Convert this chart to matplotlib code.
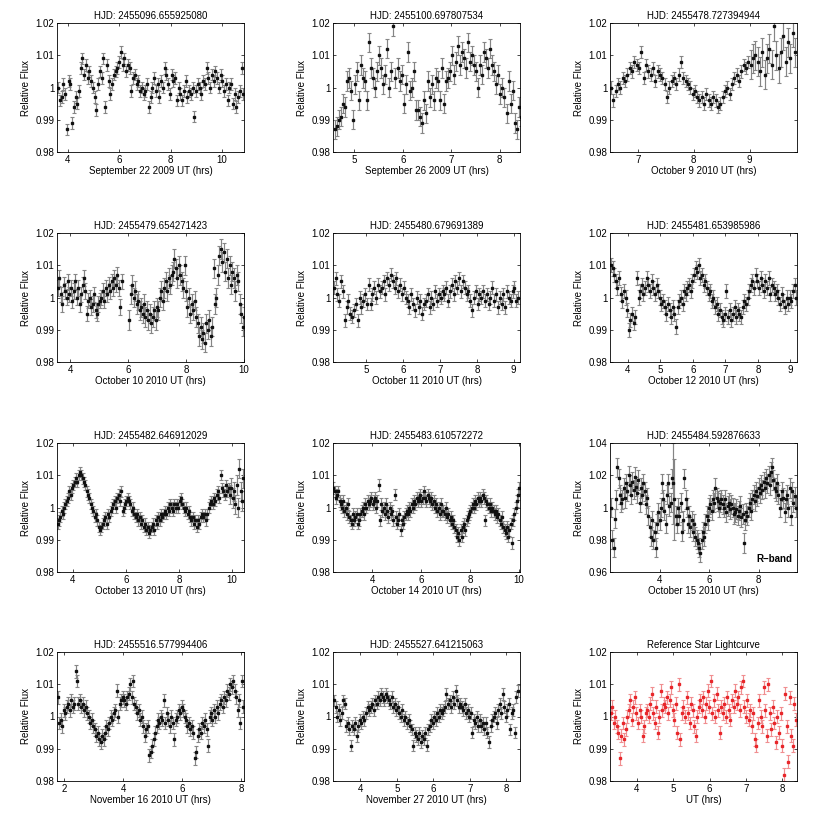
import numpy as np
import matplotlib
matplotlib.use("Agg")
import matplotlib.pyplot as plt
from matplotlib.ticker import FuncFormatter

plt.rcParams['font.family'] = ['Liberation Sans', 'DejaVu Sans']

# ---------------- data (flux offsets from 1, in parts per thousand) ----------------
titles = ["HJD: 2455096.655925080", "HJD: 2455100.697807534", "HJD: 2455478.727394944",
          "HJD: 2455479.654271423", "HJD: 2455480.679691389", "HJD: 2455481.653985986",
          "HJD: 2455482.646912029", "HJD: 2455483.610572272", "HJD: 2455484.592876633",
          "HJD: 2455516.577994406", "HJD: 2455527.641215063", "Reference Star Lightcurve"]
xlabels = ["September 22 2009 UT (hrs)", "September 26 2009 UT (hrs)", "October 9 2010 UT (hrs)",
           "October 10 2010 UT (hrs)", "October 11 2010 UT (hrs)", "October 12 2010 UT (hrs)",
           "October 13 2010 UT (hrs)", "October 14 2010 UT (hrs)", "October 15 2010 UT (hrs)",
           "November 16 2010 UT (hrs)", "November 27 2010 UT (hrs)", "UT (hrs)"]
xlims = [(3.58, 10.85), (4.56, 8.42), (6.5, 9.85), (3.55, 10.0), (4.1, 9.17), (3.45, 9.2),
         (3.4, 10.45), (2.4, 10.05), (2.0, 9.55), (1.75, 8.1), (3.25, 8.38), (3.26, 8.4)]
xticks = [[4, 6, 8, 10], [5, 6, 7, 8], [7, 8, 9], [4, 6, 8, 10], [5, 6, 7, 8, 9],
          [4, 5, 6, 7, 8, 9], [4, 6, 8, 10], [4, 6, 8, 10], [4, 6, 8], [2, 4, 6, 8],
          [4, 5, 6, 7, 8], [4, 5, 6, 7, 8]]
yticks_std = [0.98, 0.99, 1.0, 1.01, 1.02]
yticks_r = [0.96, 0.98, 1.0, 1.02, 1.04]

# panel 1
p1_flux = [0, -4, -3, 1, -2, -13,
           2, 1, -11, -6, -3, -5, -1,
           6, 9, 4, 7, 3, 5, 2,
           0, -3, -7, 1, 5, 3, 9,
           -6, 7, 2, -2, 1, 4, 5,
           6, 8, 11, 7, 9, 5, 7,
           6, -1, 3, 4, 1, 2, -1,
           0, -2, -1, 1, -6, -3, 0,
           3, -1, 1, -3, 2, 0, 6,
           4, 1, -2, 4, 2, 3, -4,
           0, -2, -4, -1, 2, -3, -1,
           -2, 0, -9, -1, 1, 0, -2,
           2, 1, 6, 3, 0, 4, 2,
           5, 3, 0, 4, 2, -1, 1,
           -4, 0, 1, -5, -2, -6, -3,
           -1, 6, -2]
# panel 2
p2_flux = [-13, -12, -10, -9, -5, -6, 2, 3, -1, -10, 1, 5,
           -4, 7, 3, 2, -4, 14, 6, 3, 0, 5, 10, 6,
           1, 4, 12, 0, 5, 19, 3, 6, 2, 4, -5, 1,
           11, -1, 0, 5, -7, -7, -9, -11, -4, -8, 2, -3,
           1, -4, 3, 2, -4, 6, -5, 2, 3, 5, 10, 4,
           8, 13, 7, 11, 9, 6, 14, 8, 10, 7, 5, 0,
           7, 4, 11, 9, 6, 12, 7, 5, 1, 4, -2, 0,
           -3, -8, 2, -5, -1, -11, -13, -6, -9, -4]
# panel 3
p3_flux_a = [0, -4, -1, 1, 0, 3, 2, 4, 6, 5, 8, 7,
             6, 11, 3, 7, 5, 4, 6, 2, 5, 4, 3, 1,
             -3, 0, 2, 3, 1, 4, 8, 3, 2, 1, 0, -2,
             -1, -3, -4, -3, -5, -2, -4, -5, -3, -4, -6, -5,
             -3, -1, 0, -2, 1, 3, 4, 2, 5, 7, 6, 8]
p3_flux_b = [7, 9, 10, 8, 5, 11, 4, 9, 12, 7, 19, 10,
             6, 11, 16, 8, 14, 9, 17, 11]
# panel 4
p4_flux_a = [3, 6, 1, -2, 4, 2, 0, 5, 1, 3,
             -1, 2, 5, 0, 3, -2, 1, 4, 6, 2,
             -5, -1, 0, -3, -2, 1, -4, -5, -2, -1,
             0, 2, -1, 3, 1, 4, 2, 5, 3, 6,
             4, 7, 3, -3, 5]
p4_flux_b = [-7, 1, 4, 0, 2, -2, -1, -4, -3, -5,
             -2, -6, -4, -7, -5, -8, -6, -4, -7, -3,
             -4, 0, 2, -1, 3, 5, 2, 6, 4, 7,
             8, 12, 9, 6, 10, 7, 5, 3, 10, 2,
             -3, 0, -5, -2, -4, -1, -6, -8, -12, -9,
             -13, -11, -14, -8, -10, -7, -12, -9, 9, -2,
             0, 7, 13, 15, 11, 14, 8, 12, 6, 10,
             4, 8, 6, 2, 7, 5, -2, -5, -9, -6]
# panel 5
p5_flux = [3, 6, 1, -1, 5, 2, -7, -3, -1, -5,
           -6, -4, -2, -7, 0, -3, -1, 1, -2, 4,
           -2, 1, 3, 0, 4, 2, 3, 5, 1, 6,
           4, 7, 5, 3, 6, 2, 4, 1, 3, 0,
           -1, -3, 1, -2, -4, 0, -3, -1, -5, -2,
           -1, 1, -3, 0, -2, 2, -1, 1, 0, 2,
           1, 3, -1, 2, 4, 1, 5, 3, 6, 2,
           5, 3, 1, 2, -1, -4, 0, 2, -2, 1,
           0, 2, -1, 1, -2, 0, 3, -1, 1, -3,
           0, -2, 1, -3, 2, 0, -1, 2, 3, -1,
           0]
# panel 6
p6_flux = [10, 9, 7, 5, 3, 6, 1, -1, 2, 0,
           -4, -10, -7, -5, -8, -6, 6, 0, 2, 4,
           1, 3, 6, 4, 2, 5, 3, 1, 4, 2,
           0, -2, -1, -3, -5, -2, -4, -6, -3, -5,
           -9, -3, -1, 0, -2, 2, 1, 3, 4, 2,
           5, 7, 9, 8, 10, 6, 7, 4, 5, 3,
           1, 2, -1, 0, -3, -2, -5, -4, -6, -7,
           -5, 2, -6, -4, -7, -5, -3, -6, -4, -5,
           -6, -3, -1, -2, 0, 2, 4, 5, 3, 7,
           5, 3, 6, 4, 2, 5, 3, 6, 1, 4,
           3, 1, 2, 0, -2, 1, -1, -3, 0, -2,
           0, -1, 2, 4, 0]
# panel 7
p7_flux_a = [-5, -4, -3, -1, -2, 0, 1, 2, 3, 5,
             4, 6, 7, 8, 9, 8, 10, 11, 10, 9,
             8, 7, 5, 4, 3, 1, 0, -1, -3, -2,
             -4, -6, -7, -6, -5, -4, -3, -5, -2, -3,
             -1, 0, 1, 2, 0, 3, 4, 2, 5, -1,
             0, 1, 2, 3, 2, 1, -1, 0, -2, -3,
             -2, -4, -3, -5, -4, -6, -5, -7, -6, -8,
             -7, -6, -5, -7, -4, -5, -3, -4, -2, -3,
             -2, -1, -2, 0, -1, 1, 0, -1, 1, 0,
             1, 0, 2, 3, 1, 0, -1, 0, -2, -1,
             -3, -4, -3, -5, -4, -6, -4, -5, -3, -2,
             -3, -2, -4, -2, 0, 1, 2, 1, 3, 2,
             4, 5, 3, 10, 6, 5, 4, 7, 5, 6]
p7_flux_b = [4, 6, 3, 5, 1, 7, 0, 12, 5, 2, 9]
# panel 8
p8_flux = [6, 5, 3, 4, 5, 2, 1, 0, 2, -1,
           0, -2, 1, -3, -4, -5, -2, -4, -3, -2,
           -5, -4, -2, -1, 0, -2, 1, 0, 2, 1,
           2, 3, 1, 2, 3, 0, 2, 7, -4, 1,
           -1, 0, -2, 1, -1, -3, 0, -2, -1, -4,
           4, -3, -5, -4, -2, -7, -4, -5, -3, -2,
           -1, -2, 0, -1, 1, 0, 2, 1, 3, 2,
           3, 4, 2, 3, 5, 3, 2, 4, 3, 2,
           3, 1, 2, 0, 1, -1, 0, -2, 1, -1,
           -1, -2, 0, -3, -2, -4, -3, -5, -4, -6,
           -7, -9, -8, -10, -7, -9, -6, -5, -7, -4,
           -3, -2, -1, 0, 1, 0, 2, 1, 3, 2,
           3, 2, 4, 3, -4, 2, 1, 0, 1, -1,
           0, -1, -2, -1, -3, -2, -4, -5, -3, -6,
           -7, -8, -6, -9, -7, -5, -11, -4, -2, 0,
           2, 4, 6]
# panel 9 (R-band)
p9_flux_a = [0, -20, -25, -7, 5, 25, 18, 8, 3, 5,
             12, 6, 15, 10, 20, 14, 8, 16, 11, 19,
             13, 9, 17, 3, 12, 8, 15, 10, 2, 6,
             -5, -12, -18, -8, -20, -15, -25, -10, -3, -8,
             0, 15, 5, -2, -10, 8, 15, 1, 3, 18]
p9_flux_b = [15, 5]
p9_flux_c = [-5, -10, 0, -5, 3, -15, -8, 18,
             5, 0, -10, -5, -12, -8, -15, -10, -18, -20,
             -22, -25, -28, -20, -15, -18, -10, -5, -8, 0,
             2, -2, 5, 3, 12, 6, 4, 0, 3, 5,
             2, 0, 5, -3, 1, 3, -1, 2, 0, -4,
             -3, -1, -5, -2, 1, -6, -4, -22, -8, -3,
             -5, 0, 3, -2, 5, 8, 4, 10, 7, 12,
             9, 14, 11, 16, 12, 18, 15, 20, 14, 22,
             25, 17, 12, 10, 15, 8, 0, 5, 10, 6,
             -3, 5, 8, 0, 12, -5, 10, 3, 7, 0]
# panel 10
p10_flux = [6, -2, -1, -3, 2, 1, 3, 4, 2, 5,
            3, 4, 14, 11, 4, 5, 3, 4, 2, 3,
            1, 0, -2, -1, -3, -4, -6, -5, -7, -8,
            -6, -7, -5, -3, -4, -2, 0, -1, 1, 2,
            8, 0, 4, 5, 6, 5, 4, 6, 7, 10,
            6, 11, 4, 3, 1, 2, -1, 0, -3, -6,
            -4, -3, -12, -11, -9, -7, -5, -3, -1, -2,
            0, -1, 5, -2, 1, -1, -3, 0, -2, -7,
            -1, 0, 2, 1, 3, 2, 0, -1, -3, -2,
            -4, -3, -5, -13, -11, -6, -4, -5, -2, -3,
            -1, -4, -9, 0, 1, -1, 2, 0, 3, 1,
            4, 5, 3, 6, 5, 8, 7, 10, 9, 11,
            8, 6, 2, 5, -2, 11, 3]
# panel 11
p11_flux = [5, 3, 0, 2, -1, 1, 5, 4, -3, -2, -4, -9,
            -3, -4, -2, -6, -3, -1, -2, 0, -1, 1, 3, 2,
            3, 4, 2, 5, 4, 6, 5, 7, 6, 5, 7, 6,
            5, 4, 6, 3, 4, 2, 3, 1, 0, 2, -1, 0,
            -2, -1, -3, -4, -9, -5, -6, -7, -5, -8, -6, -7,
            -5, -9, -4, -3, -1, -2, 0, -1, 1, 0, 2, 1,
            2, 3, 7, 4, 5, 3, 6, 4, 8, 5, 3, 4,
            3, 2, 4, 1, 2, 0, 1, -5, -1, -2, 0, -3,
            -1, -3, -2, -4, -2, -5, -8, -3, -1, 0, 1, -2,
            2, 4, 1, 7, 3, 0, 2, 4, -4, 1, 2, -5,
            6, 8]
# panel 12 (reference star)
p12_flux = [1, 3, -2, 0, -3, -5, -13, -6, -2, -7, -4, 0,
            2, 5, -1, 3, 6, 1, -2, 2, 0, -6, -3, 1,
            2, 0, 4, 7, 1, -2, 3, -5, 0, 8, 2, 4,
            3, 6, 1, 5, 9, 2, -1, 4, -5, 10, -7, 1,
            3, 0, 6, 1, -2, 4, 2, -3, -6, 0, 3, 5,
            2, 6, 0, 4, 8, 3, 11, 1, 5, 0, 7, 2,
            -5, 3, 1, 4, 0, 6, 2, -1, 5, 3, 8, 4,
            6, 2, 9, 11, 3, 0, 5, -1, 2, -3, 1, -7,
            -9, -2, 5, 0, -3, 9, 2, -6, 10, 1, -4, 3,
            -2, -8, 0, -5, 1, -9, -18, 7, -3, -14, 6, -6,
            -9, 4, -1]

# segments: (start time [h], points per half hour, flux offsets, error [ppt])
panels = [
    [(3.62, 7.36, p1_flux, 1.8)],
    [(4.60, 12, p2_flux, 3.0)],
    [(6.52, 12, p3_flux_a, 1.9), (9.02, 12, p3_flux_b, 4.5)],
    [(3.58, 10, p4_flux_a, 2.4), (6.05, 10, p4_flux_b, 3.0)],
    [(4.12, 10, p5_flux, 2.0)],
    [(3.48, 10, p6_flux, 2.2)],
    [(3.42, 10, p7_flux_a, 1.6), (9.92, 10, p7_flux_b, 3.0)],
    [(2.42, 10, p8_flux, 1.8)],
    [(2.05, 10, p9_flux_a, 6.0), (4.55, 10, p9_flux_b, 25.0), (4.65, 10, p9_flux_c, 6.0)],
    [(1.78, 10, p10_flux, 2.0)],
    [(3.28, 12, p11_flux, 1.8)],
    [(3.28, 12, p12_flux, 2.0)],
]

# ---------------- figure ----------------
W, H = 830, 819
fig = plt.figure(figsize=(W / 100, H / 100), dpi=100)
col_left = [57, 333, 610]
row_top = [23, 233, 443, 652]
aw, ah = 187, 129

fmt = FuncFormatter(lambda v, p: '%g' % round(v, 4))

for i in range(12):
    r, c = divmod(i, 3)
    ax = fig.add_axes([col_left[c] / W, 1 - (row_top[r] + ah) / H, aw / W, ah / H])
    red = (i == 11)
    mcol = '#e8262a' if red else '#111111'
    ecol = '#f08e90' if red else '#858585'
    for (t0, per_half, vals, err) in panels[i]:
        t = t0 + np.arange(len(vals)) * (0.5 / per_half)
        f = 1 + np.array(vals, dtype=float) / 1000.0
        ax.errorbar(t, f, yerr=err / 1000.0, fmt='s', ms=2.1, mfc=mcol, mec=mcol,
                    ecolor=ecol, elinewidth=0.85, capsize=1.6, capthick=0.8)
    ax.set_xlim(*xlims[i])
    if i == 8:
        ax.set_ylim(0.96, 1.04)
        ax.set_yticks(yticks_r)
        ax.text(0.975, 0.06, 'R\u2212band', transform=ax.transAxes, ha='right',
                va='bottom', fontsize=7, fontweight='bold')
    else:
        ax.set_ylim(0.98, 1.02)
        ax.set_yticks(yticks_std)
    ax.set_xticks(xticks[i])
    ax.yaxis.set_major_formatter(fmt)
    ax.xaxis.set_major_formatter(fmt)
    ax.tick_params(direction='in', top=True, right=True, length=2.5, width=0.5,
                   labelsize=7, pad=2)
    for s in ax.spines.values():
        s.set_linewidth(0.6)
    ax.set_title(titles[i], fontsize=7, pad=3)
    ax.set_xlabel(xlabels[i], fontsize=7, labelpad=1)
    ax.set_ylabel('Relative Flux', fontsize=7, labelpad=3)

fig.savefig('out.png', dpi=100)
